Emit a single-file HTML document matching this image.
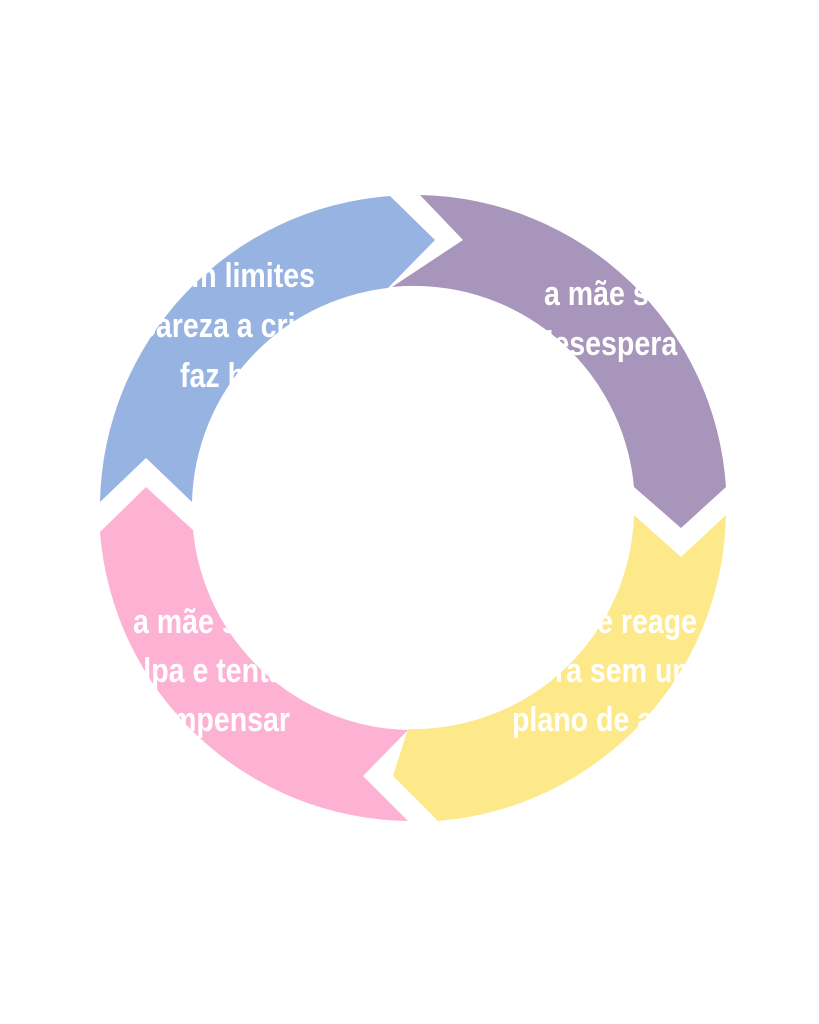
<!DOCTYPE html>
<html><head><meta charset="utf-8"><style>
html,body{margin:0;padding:0;background:#fff;}
svg{display:block;}
text{font-family:"Liberation Sans",sans-serif;font-weight:bold;font-size:34px;fill:#fff;}
</style></head><body>
<svg width="819" height="1024" viewBox="0 0 819 1024">
<path d="M100,502 A313,313 0 0 1 390,196 L435,240 L388,288 A221,221 0 0 0 192,502 L146,458 Z" fill="#97b3e1"/>
<path d="M420,195 A313,313 0 0 1 726,487 L681,528 L634,487 A221,221 0 0 0 392,287 L463,240 Z" fill="#a895bb"/>
<path d="M726,515 A313,313 0 0 1 438,821 L393,776 L408,729 A221,221 0 0 0 634,515 L681,557 Z" fill="#fde98a"/>
<path d="M408,821 A313,313 0 0 1 100,532 L146,487 L193,530 A221,221 0 0 0 408,730 L363,776 Z" fill="#fdb2d4"/>
<g transform="translate(315,287) scale(0.84,1)"><text text-anchor="end">sem limites</text></g>
<g transform="translate(140,337) scale(0.84,1)"><text>careza a criança</text></g>
<g transform="translate(180,387) scale(0.84,1)"><text>faz birra</text></g>
<g transform="translate(544,305) scale(0.84,1)"><text>a mãe se</text></g>
<g transform="translate(536,355) scale(0.84,1)"><text>desespera</text></g>
<g transform="translate(133,633) scale(0.84,1)"><text>a mãe se sente</text></g>
<g transform="translate(110,682) scale(0.84,1)"><text>culpa e tenta</text></g>
<g transform="translate(290,731) scale(0.84,1)"><text text-anchor="end">compensar</text></g>
<g transform="translate(697,633) scale(0.84,1)"><text text-anchor="end">e reage</text></g>
<g transform="translate(555,682) scale(0.84,1)"><text>ra sem um</text></g>
<g transform="translate(512,731) scale(0.84,1)"><text>plano de ação</text></g>
</svg>
</body></html>
